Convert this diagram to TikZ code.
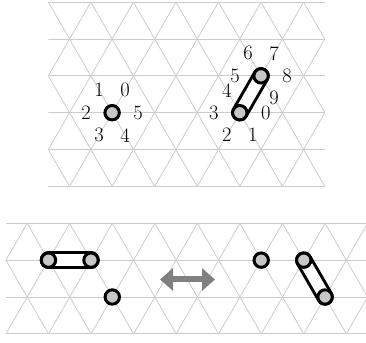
\documentclass[tikz,border=0pt]{standalone}
\usepackage{fontspec}
\usetikzlibrary{arrows.meta,calc}
\tikzset{
  gridline/.style={draw=black!20, line width=0.8pt},
  dot/.style={circle, draw=black, fill=black!22, line width=3pt, minimum size=14.4pt, inner sep=0pt, outer sep=0pt},
  capout/.style={draw=black, line width=17.4pt, line cap=round},
  capin/.style={draw=white, line width=11.4pt, line cap=round},
  num/.style={inner sep=0pt, font=\fontsize{20.5}{24}\selectfont},
  bigarrow/.style={draw=black!50, line width=6pt, {Triangle[width=22pt,length=13pt]}-{Triangle[width=22pt,length=13pt]}},
}
\begin{document}
\begin{tikzpicture}[x=1pt,y=1pt]
\useasboundingbox (0,0) rectangle (366,342);
\def\s{42.55}
\def\h{36.85}
% ---------- top grid ----------
\begin{scope}
  \clip (48.3,155.2) rectangle (324.9,340.25);
  \foreach \i in {0,...,5} {
    \draw[gridline] (48.3,339.85-\i*\h) -- (324.9,339.85-\i*\h);
  }
  \foreach \k in {-3,...,7} {
    \draw[gridline] (48.3+\k*\s,339.85) -- ++(2.5*\s,-5*\h);
  }
  \foreach \k in {0,...,10} {
    \draw[gridline] (48.3+\k*\s,339.85) -- ++(-2.5*\s,-5*\h);
  }
\end{scope}
% ---------- bottom grid ----------
\begin{scope}
  \clip (5.9,7.75) rectangle (370,119.1);
  \foreach \i in {0,...,3} {
    \draw[gridline] (5.9,118.7-\i*\h) -- (370,118.7-\i*\h);
  }
  \foreach \k in {-2,...,9} {
    \draw[gridline] (27.2+\k*\s,118.7) -- ++(1.5*\s,-3*\h);
    \draw[gridline] (27.2+\k*\s,118.7) -- ++(-1.5*\s,-3*\h);
  }
\end{scope}
% ---------- top left dot with labels ----------
\node[dot] (p) at (112.1,229.3) {};
\path (p) ++(60:26) node[num] (p0) {0};
\path (p) ++(120:26) node[num] (p1) {1};
\path (p) ++(180:26) node[num] (p2) {2};
\path (p) ++(240:26) node[num] (p3) {3};
\path (p) ++(300:26) node[num] (p4) {4};
\path (p) ++(0:26) node[num] (p5) {5};
% ---------- top right pair with labels ----------
\coordinate (qb) at (239.8,229.3);
\coordinate (qa) at (261.05,266.15);
\draw[capout] (qb) -- (qa);
\draw[capin] (qb) -- (qa);
\node[dot] (b) at (qb) {};
\node[dot] (a) at (qa) {};
\path (b) ++(0:26) node[num] (q0) {0};
\path (b) ++(300:26) node[num] (q1) {1};
\path (b) ++(240:26) node[num] (q2) {2};
\path (b) ++(180:26) node[num] (q3) {3};
\path (b) ++(120:26) node[num] (q4) {4};
\path (a) ++(180:26) node[num] (q5) {5};
\path (a) ++(120:26) node[num] (q6) {6};
\path (a) ++(60:26) node[num] (q7) {7};
\path (a) ++(0:26) node[num] (q8) {8};
\path (a) ++(300:26) node[num] (q9) {9};
% ---------- bottom left configuration ----------
\coordinate (c1) at (48.45,81.85);
\coordinate (c2) at (91.0,81.85);
\draw[capout] (c1) -- (c2);
\draw[capin] (c1) -- (c2);
\node[dot] (d1) at (c1) {};
\node[dot] (d2) at (c2) {};
\node[dot] (d3) at (112.3,45.0) {};
% ---------- arrow ----------
\coordinate (al) at (160,62.5);
\coordinate (ar) at (215,62.5);
\draw[bigarrow] (al) -- (ar);
% ---------- bottom right configuration ----------
\node[dot] (e1) at (261.2,81.85) {};
\coordinate (c3) at (303.75,81.85);
\coordinate (c4) at (325.05,45.0);
\draw[capout] (c3) -- (c4);
\draw[capin] (c3) -- (c4);
\node[dot] (e2) at (c3) {};
\node[dot] (e3) at (c4) {};
\end{tikzpicture}
\end{document}
